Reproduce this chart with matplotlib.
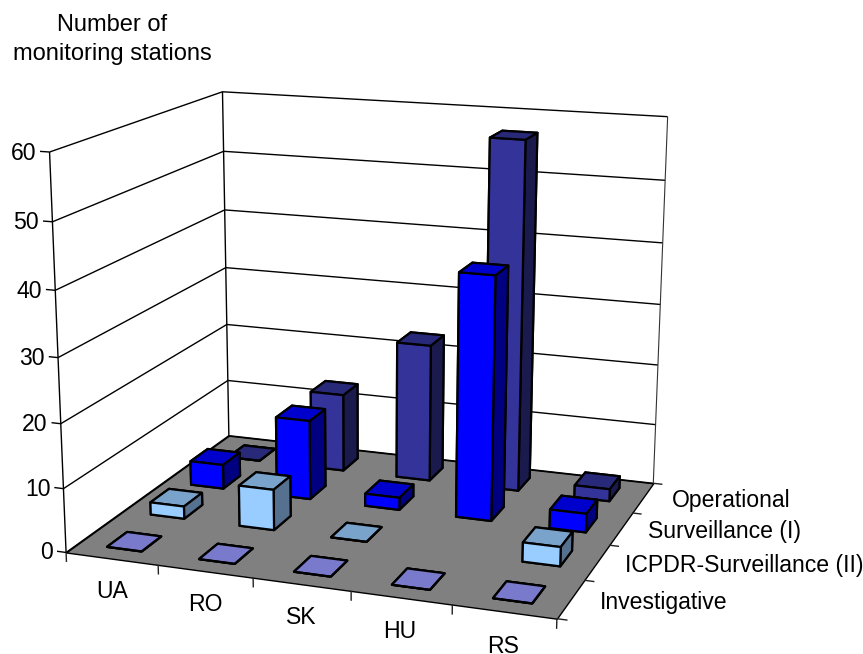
import numpy as np
import matplotlib
matplotlib.use("Agg")
import matplotlib.pyplot as plt
from mpl_toolkits.mplot3d.art3d import Poly3DCollection, Line3DCollection
from mpl_toolkits.mplot3d import proj3d

plt.rcParams['font.family'] = ['Liberation Sans', 'DejaVu Sans']

countries = ['UA', 'RO', 'SK', 'HU', 'RS']
series_names = ['Investigative', 'ICPDR-Surveillance (II)', 'Surveillance (I)', 'Operational']
investigative = [0, 0, 0, 0, 0]
icpdr = [2, 6.5, 0, np.nan, 3]
surveillance = [4, 13, 2, 39, 3]
operational = [0, 13, 22.8, 57, 2]
z_ticks = [0, 10, 20, 30, 40, 50, 60]

series_values = [investigative, icpdr, surveillance, operational]
# face colours: front, top, right
series_faces = [('#7a7acc', '#7a7acc', '#5c5c99'),
                ('#99ccff', '#7aa3cc', '#56708f'),
                ('#0000ff', '#0000cc', '#000080'),
                ('#333399', '#29297a', '#1a1a4d')]

W, H = 863, 654
fig = plt.figure(figsize=(W / 100, H / 100), dpi=100)
ax = fig.add_axes([0, 0, 1, 1], projection='3d', computed_zorder=False)
ax.set_axis_off()

nx, ny, zmax = len(countries), len(series_names), z_ticks[-1]

# Camera calibration: chart-box corners -> pixel positions
box_pts = [(0, 0, 0), (nx, 0, 0), (nx, ny, 0), (0, ny, 0), (0, 0, zmax), (0, ny, zmax),
           (nx, ny, zmax), (0, 0, 50), (0, ny, 50), (nx, ny, 50)]
pix_pts = [(65, 552), (557, 619), (653, 483), (230, 436), (50, 152), (222, 91),
           (668, 117), (53, 222), (223, 152), (665, 180)]
A = []
for (x, y, z), (u, v) in zip(box_pts, pix_pts):
    u, v = u / 100, v / 100
    z = z / 10
    A.append([x, y, z, 1, 0, 0, 0, 0, -u * x, -u * y, -u * z, -u])
    A.append([0, 0, 0, 0, x, y, z, 1, -v * x, -v * y, -v * z, -v])
P = np.linalg.svd(np.array(A))[2][-1].reshape(3, 4)
P = P @ np.diag([1, 1, 0.1, 1])
P[:2] *= 100
if (P[2] @ np.array([2.5, 2, 30, 1])) < 0:
    P = -P
M = np.vstack([P[0], P[1], [0, 0, 0, -1], P[2]])
ax.get_proj = lambda: M
ax.apply_aspect = lambda position=None: None


def lines(segments, zo=2, lw=1.0, color='black'):
    ax.add_collection3d(Line3DCollection(segments, colors=color, linewidths=lw, zorder=zo),
                        autolim=False)


def label(x, y, z, s, dx=0, dy=0, **kw):
    u, v, _ = proj3d.proj_transform(x, y, z, M)
    fig.text((float(u) + dx) / W, 1 - (float(v) + dy) / H, s, va='center', **kw)


# floor
ax.add_collection3d(Poly3DCollection([[(0, 0, 0), (nx, 0, 0), (nx, ny, 0), (0, ny, 0)]],
                                     facecolors='#808080', edgecolors='black',
                                     linewidths=1.0, zorder=1))
# gridlines, wall edges and ticks
grid = []
for z in z_ticks:
    grid.append([(0, 0, z), (0, ny, z), (nx, ny, z)])
    grid.append([(-0.1, 0, z), (0, 0, z)])
grid.append([(0, 0, 0), (0, 0, zmax)])
grid.append([(0, ny, 0), (0, ny, zmax)])
lines(grid)
lines([[(nx, ny, 0), (nx, ny, zmax)]], lw=0.8, color='#333333')
ticks = [[(i, 0, 0), (i, 0, -1.5)] for i in range(nx + 1)]
ticks += [[(nx, j, 0), (nx + 0.1, j, 0)] for j in range(ny + 1)]
lines(ticks, color='#222222')

# bars, back to front
bw, bd = 0.38, 0.45
order = 10
for j in range(ny - 1, -1, -1):
    front, top, right = series_faces[j]
    for i in range(nx):
        v = series_values[j][i]
        if np.isnan(v):
            continue
        faces = [top] * 6 if v == 0 else [top, top, front, right, right, right]
        ax.bar3d(i + 0.5 - bw / 2, j + 0.5 - bd / 2, 0, bw, bd, v, color=faces,
                 edgecolor='black', linewidth=1.6, shade=False, zorder=order)
        order += 1

# labels
FS = 16.6
for z in z_ticks:
    label(-0.13, 0, z, str(z), dx=-1, dy=2, ha='right', fontsize=FS)
for i, c in enumerate(countries):
    label(i + 0.5, 0, -4.7, c, dx=-1, dy=3, ha='center', fontsize=FS)
series_dx = [6, 6, 6, 9]
for j, s in enumerate(series_names):
    label(nx + 0.22, j + 0.5, 0, s, dx=series_dx[j], ha='left', fontsize=FS)
fig.text(112 / W, 1 - 39.5 / H, 'Number of\nmonitoring stations', ha='center', va='center',
         fontsize=17, linespacing=1.46)

ax.viewLim.intervalx = (0, W)
ax.viewLim.intervaly = (H, 0)
fig.savefig('out.png', dpi=100)
